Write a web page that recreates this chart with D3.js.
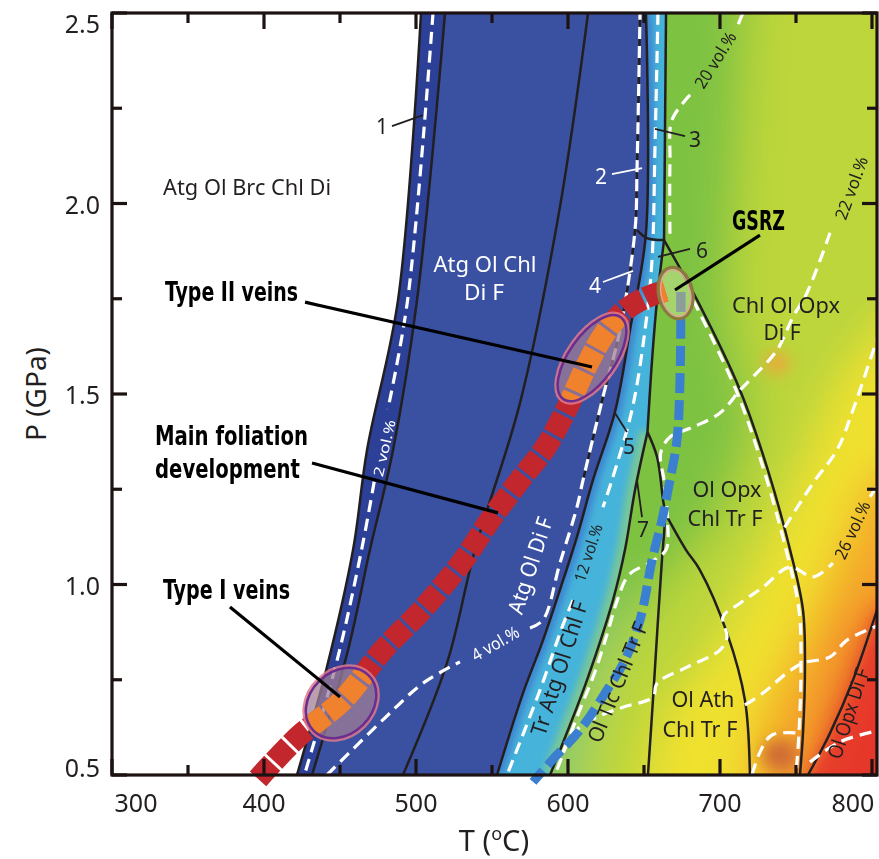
<!DOCTYPE html>
<html>
<head>
<meta charset="utf-8">
<script src="https://cdn.jsdelivr.net/npm/d3@7/dist/d3.min.js"></script>
<style>
  html, body { margin: 0; padding: 0; background: #fff; }
  svg { display: block; }
  text { font-family: "Noto Sans", "Open Sans", sans-serif; }
  .bold { font-family: "Liberation Sans Narrow", "DejaVu Sans Condensed", sans-serif; font-weight: bold; }
</style>
</head>
<body>
<svg id="chart" width="879" height="859"></svg>
<script>
// ---- axes ----
var xMajor = [300, 400, 500, 600, 700, 800];
var xMinor = [350, 450, 550, 650, 750];
var yMajor = [0.5, 1.0, 1.5, 2.0, 2.5];
var yMinor = [0.75, 1.25, 1.75, 2.25];
var xTickLabels = ["300", "400", "500", "600", "700", "800"];
var yTickLabels = ["0.5", "1.0", "1.5", "2.0", "2.5"];

// ---- reaction curves [T (°C), P (GPa)] ----
var curve1a = [[503.3, 2.5], [488.2, 1.747], [467.8, 1.353], [458.6, 1.091], [441.4, 0.783], [421.7, 0.5]];
var curve1b = [[519.1, 2.5], [500.7, 1.747], [484.9, 1.353], [469.7, 1.091], [455.3, 0.828], [431.6, 0.5]];
var curve2 = [[613.2, 2.5], [594.7, 1.991], [568.4, 1.476], [538.8, 1.091], [520.4, 0.794], [491.4, 0.5]];
var atgOut = [[651.3, 2.5], [651.3, 1.923], [640.8, 1.668], [630.9, 1.453], [616.4, 1.274], [605.9, 1.125],
              [594.7, 0.986], [583.6, 0.854], [570.4, 0.715], [553.3, 0.5]];
var topRight = [[664.5, 2.5], [663.2, 1.904]];
var line6 = [[663.2, 1.904], [658.6, 1.747], [655.3, 1.589], [652.3, 1.4]];
var line5 = [[652.3, 1.4], [644.1, 1.248], [637.5, 1.091], [629.6, 0.959], [612.5, 0.749], [600.0, 0.618], [588.2, 0.5]];
var tie6 = [[645.4, 1.930], [652.0, 1.909], [663.2, 1.904]];
var line7 = [[652.3, 1.4], [658.6, 1.335], [662.5, 1.222], [663.8, 1.188], [661.8, 1.064], [659.2, 0.907], [655.9, 0.697], [652.6, 0.5]];
var line7b = [[663.8, 1.188], [677.6, 1.091], [686.8, 1.038], [704.6, 0.873], [716.4, 0.697], [719.7, 0.5]];
var opxIn = [[663.2, 1.904], [684.9, 1.747], [713.2, 1.510], [730.9, 1.308], [746.1, 1.091], [754.6, 0.933],
             [755.9, 0.783], [754.6, 0.610], [752.6, 0.5]];
var diOut = [[757.9, 0.5], [772.4, 0.610], [787.5, 0.749], [803.3, 0.933]];

// ---- vol.% contours (segments broken where labels sit) ----
var vol2 = [[[511.2, 2.5], [494.5, 1.747], [481.5, 1.46]],
            [[472.5, 1.27], [464.2, 1.091], [448.4, 0.806], [426.6, 0.5]]];
var vol4 = [[[441.4, 0.5], [479.6, 0.650], [504.6, 0.741], [528.9, 0.797]],
            [[575.0, 0.886], [583.6, 0.907], [594.7, 1.056], [605.9, 1.203], [609.9, 1.274], [623.0, 1.492],
             [634.2, 1.668], [644.1, 1.930], [645.4, 2.088], [647.4, 2.5]]];
var vol12 = [[[659.2, 2.5], [657.2, 2.140], [655.3, 1.852], [650.7, 1.668], [642.1, 1.458], [628.9, 1.274], [623.0, 1.203]],
             [[603.3, 0.959], [596.7, 0.894], [581.6, 0.723], [559.9, 0.5]]];
var vol20 = [[[715.1, 2.5], [711.2, 2.463]],
             [[680.3, 2.285], [668.4, 2.219], [667.1, 2.114], [667.1, 1.904]]];
var vol22 = [[[772.4, 1.923], [757.2, 1.765], [748.0, 1.702], [737.5, 1.615], [721.7, 1.545], [713.2, 1.510],
              [700.0, 1.450], [682.2, 1.413], [667.1, 1.387], [661.0, 1.345], [663.5, 1.266], [665.5, 1.169],
              [664.5, 1.091], [655.0, 1.060], [640.0, 1.025], [632.5, 0.959], [626.0, 0.873], [617.5, 0.768],
              [607.0, 0.663], [597.0, 0.558], [591.5, 0.5]]];
var vol24 = [[[805.3, 1.668], [787.5, 1.458], [777.0, 1.353], [761.2, 1.266], [742.5, 1.15]]];
var vol26 = [[[596.7, 0.558], [603.3, 0.610], [619.1, 0.652], [636.2, 0.678], [655.9, 0.705], [658.6, 0.741],
              [678.3, 0.783], [700.0, 0.828], [704.6, 0.862], [702.0, 0.915], [713.2, 0.951], [728.3, 0.993],
              [746.1, 1.046], [761.2, 1.020], [774.3, 1.056]],
             [[798.7, 1.230], [805.3, 1.269]]];
var vol27 = [[[716.4, 0.684], [728.3, 0.715], [744.1, 0.768], [754.6, 0.794], [772.4, 0.810], [783.6, 0.854], [805.3, 0.894]]];
var vol28 = [[[721.1, 0.5], [726.3, 0.560], [734.2, 0.605], [752.6, 0.610]]];
var vol29 = [[[759.2, 0.534], [778.9, 0.587], [805.3, 0.618]]];

// ---- P-T paths ----
var redPath = [[396.1, 0.490], [422.4, 0.600], [452.0, 0.697], [478.3, 0.828], [503.9, 0.933], [530.3, 1.059],
               [548.7, 1.169], [568.4, 1.274], [584.9, 1.358], [598.7, 1.458], [612.5, 1.576], [624.3, 1.660],
               [637.5, 1.720], [650.7, 1.752], [665.8, 1.773]];
var bluePath = [[674.3, 1.768], [673.7, 1.537], [671.7, 1.379], [667.1, 1.274], [661.8, 1.169], [655.3, 1.064],
                [647.4, 0.907], [637.5, 0.802], [625.7, 0.723], [607.9, 0.618], [591.4, 0.547], [577.0, 0.482]];
var typeIAt = [450.7, 0.689];
var typeIIAt = [615.8, 1.594];
var gsrzAt = [670.8, 1.765];

// ---- background colour field (warmth zones) ----
var zoneYellowGreen = [[720, 2.67], [851, 2.67], [851, 0.3], [598, 0.3], [610, 0.70], [655, 0.96], [700, 1.17], [722, 1.41], [706, 1.75], [712, 2.14]];
var zoneYellow = [[851, 1.88], [851, 0.3], [641, 0.3], [660, 0.64], [700, 0.85], [740, 1.17], [779, 1.54]];
var zoneOrange = [[851, 1.41], [851, 0.3], [713, 0.3], [726, 0.64], [766, 0.96], [799, 1.27]];
var zoneRedOrange = [[851, 1.06], [851, 0.3], [746, 0.3], [766, 0.64], [792, 0.91]];
var zoneRed = [[851, 0.85], [851, 0.3], [759, 0.3], [782, 0.59], [805, 0.85]];
var zoneTeal = [[560, 0.3], [600, 0.3], [615, 0.62], [640, 1.0], [625, 1.0], [590, 0.62]];
var spotAt = [[737.5, 1.581], [739.5, 0.552]];

// ---- labels ----
var fieldText = ["Atg Ol Brc Chl Di", "Atg Ol Chl", "Di F", "Chl Ol Opx", "Di F", "Ol Opx", "Chl Tr F", "Ol Ath", "Chl Tr F"];
var fieldAt = [[333.6, 2.022], [545.4, 1.820], [544.7, 1.747], [743.4, 1.713], [740.8, 1.642], [704.6, 1.230], [703.3, 1.154], [688.8, 0.678], [686.8, 0.600]];
var rotText = ["Atg Ol Di F", "4 vol.%", "12 vol.%", "Tr Atg Ol Chl F", "Ol Tlc Chl Tr F", "Ol Opx Di F", "20 vol.%", "22 vol.%", "26 vol.%", "2 vol.%"];
var rotAt = [[574.3, 1.051], [552.0, 0.846], [613.2, 1.083], [593.4, 0.781], [632.2, 0.744], [784.2, 0.662], [696.7, 2.377], [786.2, 2.041], [786.8, 1.143], [478.9, 1.358]];
var numText = ["1", "2", "3", "4", "5", "6", "7"];
var numAt = [[477.6, 2.203], [621.7, 2.072], [683.6, 2.169], [617.8, 1.786], [640.1, 1.364], [688.2, 1.878], [649.3, 1.146]];
var numLead = [[[484.2, 2.203], [504.6, 2.232]], [[628.9, 2.077], [648.7, 2.093]], [[677.0, 2.177], [657.2, 2.196]],
               [[623.0, 1.794], [642.8, 1.823]], [[638.8, 1.400], [630.9, 1.450]], [[680.3, 1.881], [659.2, 1.860]],
               [[648.7, 1.177], [645.4, 1.274]]];
var calloutText = ["Type II veins", "Main foliation", "development", "Type I veins", "GSRZ"];
var calloutAt = [[334.9, 1.744], [328.3, 1.366], [328.3, 1.280], [333.6, 0.962], [707.9, 1.930]];
var calloutLead = [[[427.0, 1.741], [615.8, 1.571]], [[431.6, 1.319], [553.9, 1.188]],
                   [[377.6, 0.941], [450.0, 0.705]], [[726.3, 1.917], [670.4, 1.773]]];

// ---------------------------------------------------------------
var svg = d3.select("#chart");
var x = d3.scaleLinear().domain([300, 803.3]).range([112, 877]);
var y = d3.scaleLinear().domain([0.5, 2.5]).range([775, 13]);
var X0 = x.range()[0], X1 = x.range()[1], Y0 = y.range()[1], Y1 = y.range()[0];
var ink = "#231f20";

var curveLine = d3.line().x(function(d) { return x(d[0]); }).y(function(d) { return y(d[1]); })
    .curve(d3.curveCatmullRom.alpha(0.5));
var linLine = d3.line().x(function(d) { return x(d[0]); }).y(function(d) { return y(d[1]); });

// joins curve pieces into one closed outline
function outline(segs) {
    return segs.map(function(s, i) {
        var pts = s.rev ? s.pts.slice().reverse() : s.pts;
        var p = (s.lin ? linLine : curveLine)(pts);
        return i ? "L" + p.slice(1) : p;
    }).join("") + "Z";
}

var defs = svg.append("defs");
defs.append("clipPath").attr("id", "plotClip").append("rect")
    .attr("x", X0).attr("y", Y0).attr("width", X1 - X0).attr("height", Y1 - Y0);

var gradOutline = outline([
    {pts: topRight}, {pts: line6}, {pts: line5},
    {pts: [[588.2, 0.5], [588.2, 0.4], [820, 0.4], [820, 2.6], [664.5, 2.6], [664.5, 2.5]], lin: true}
]);
var blueOutline = outline([
    {pts: curve1a},
    {pts: [[421.7, 0.5], [421.7, 0.4], [553.3, 0.4], [553.3, 0.5]], lin: true},
    {pts: atgOut, rev: true},
    {pts: [[651.3, 2.5], [651.3, 2.6], [503.3, 2.6], [503.3, 2.5]], lin: true}
]);
var darkOutline = outline([
    {pts: curve1a},
    {pts: [[421.7, 0.5], [421.7, 0.4], [431.6, 0.4], [431.6, 0.5]], lin: true},
    {pts: curve1b, rev: true},
    {pts: [[519.1, 2.5], [519.1, 2.6], [503.3, 2.6], [503.3, 2.5]], lin: true}
]);
var cyanOutline = outline([
    {pts: atgOut},
    {pts: [[553.3, 0.5], [553.3, 0.4], [588.2, 0.4], [588.2, 0.5]], lin: true},
    {pts: line5, rev: true}, {pts: line6, rev: true}, {pts: topRight, rev: true},
    {pts: [[664.5, 2.5], [664.5, 2.6], [651.3, 2.6], [651.3, 2.5]], lin: true}
]);
var redOutline = outline([
    {pts: diOut},
    {pts: [[803.3, 0.933], [830, 0.933], [830, 0.4], [757.9, 0.4], [757.9, 0.5]], lin: true}
]);

defs.append("clipPath").attr("id", "gradClip").append("path").attr("d", gradOutline);
defs.append("clipPath").attr("id", "cyanClip").append("path").attr("d", cyanOutline);

function blurFilter(id, sd) {
    defs.append("filter").attr("id", id).attr("filterUnits", "userSpaceOnUse")
        .attr("x", -100).attr("y", -100).attr("width", 1100).attr("height", 1100)
        .append("feGaussianBlur").attr("stdDeviation", sd);
}
blurFilter("blurBig", 22);
blurFilter("blurMid", 8);
blurFilter("blurSmall", 3.5);

var plot = svg.append("g").attr("clip-path", "url(#plotClip)");

// colour field right of the Atg-out boundary
var field = plot.append("g").attr("clip-path", "url(#gradClip)").append("g").attr("filter", "url(#blurBig)");
field.append("rect").attr("x", X0 - 100).attr("y", Y0 - 100).attr("width", X1 - X0 + 200).attr("height", Y1 - Y0 + 200)
    .attr("fill", "#7ec242");
[[zoneYellowGreen, "#bcd63a"], [zoneYellow, "#f0e12e"], [zoneOrange, "#f4a62c"],
 [zoneRedOrange, "#ef6d2b"], [zoneRed, "#e4352a"], [zoneTeal, "#8ccb6e"]].forEach(function(z) {
    field.append("path").attr("d", linLine(z[0]) + "Z").attr("fill", z[1]);
});
var spots = plot.append("g").attr("clip-path", "url(#gradClip)").append("g").attr("filter", "url(#blurMid)");
spots.append("path").attr("d", redOutline).attr("fill", "#e5352b").attr("opacity", 0.85);
spots.append("ellipse").attr("cx", x(spotAt[0][0])).attr("cy", y(spotAt[0][1])).attr("rx", 12).attr("ry", 10).attr("fill", "#f3a23a");
spots.append("ellipse").attr("cx", x(spotAt[1][0])).attr("cy", y(spotAt[1][1])).attr("rx", 18).attr("ry", 16).attr("fill", "#cf6a34");

// Atg fields
plot.append("path").attr("d", blueOutline).attr("fill", "#3a51a2");
plot.append("path").attr("d", darkOutline).attr("fill", "#2c4097");

// Tr Atg Ol Chl F band
var band = plot.append("g").attr("clip-path", "url(#cyanClip)");
band.append("path").attr("d", cyanOutline).attr("fill", "#46b3da");
var bandShade = band.append("g").attr("filter", "url(#blurSmall)");
bandShade.append("path").attr("d", curveLine(atgOut)).attr("fill", "none").attr("stroke", "#3d82cf").attr("stroke-width", 12);
bandShade.append("path").attr("d", curveLine(line5)).attr("fill", "none").attr("stroke", "#79c894").attr("stroke-width", 16);

// reaction lines
var lines = plot.append("g").attr("fill", "none").attr("stroke", ink).attr("stroke-width", 2.5);
[curve1a, curve1b, curve2, atgOut, topRight, line6, line5, tie6, line7, line7b, opxIn, diOut, vol4[1].slice(4)]
    .forEach(function(c) { lines.append("path").attr("d", curveLine(c)); });

// contours
var dashes = plot.append("g").attr("fill", "none").attr("stroke", "#fff").attr("stroke-width", 3.2)
    .attr("stroke-dasharray", "12,7");
[vol2, vol4, vol12, vol20, vol22, vol24, vol26, vol27, vol28, vol29].forEach(function(c) {
    c.forEach(function(seg) { dashes.append("path").attr("d", curveLine(seg)); });
});
dashes.append("path").attr("d", curveLine(opxIn.slice(1))).attr("transform", "translate(-4,0)");

// P-T paths
function ellipse(g, at, rx, ry, rot) {
    return g.append("ellipse").attr("cx", 0).attr("cy", 0).attr("rx", rx).attr("ry", ry)
        .attr("transform", "translate(" + x(at[0]) + "," + y(at[1]) + ") rotate(" + rot + ")");
}
var over = svg.append("g");
over.append("path").attr("d", curveLine(redPath)).attr("fill", "none").attr("stroke", "#c1272d")
    .attr("stroke-width", 22).attr("stroke-dasharray", "21,3");
over.append("path").attr("d", curveLine(bluePath)).attr("fill", "none").attr("stroke", "#3b7fd0")
    .attr("stroke-width", 9).attr("stroke-dasharray", "20,7");

var rings = [[typeIAt, 39, 31, -45], [typeIIAt, 50, 23, -55]];
rings.forEach(function(r, i) {
    var id = "ring" + i;
    ellipse(defs.append("clipPath").attr("id", id), r[0], r[1], r[2], r[3]);
    ellipse(over, r[0], r[1], r[2], r[3]).attr("fill", "rgba(160,125,148,0.74)");
    over.append("path").attr("d", curveLine(redPath)).attr("clip-path", "url(#" + id + ")")
        .attr("fill", "none").attr("stroke", "#f0822d").attr("stroke-width", 22).attr("stroke-dasharray", "21,3");
    ellipse(over, r[0], r[1] + 2, r[2] + 2, r[3]).attr("fill", "none").attr("stroke", "#e07a8c")
        .attr("stroke-width", 3).attr("opacity", 0.85);
    ellipse(over, r[0], r[1], r[2], r[3]).attr("fill", "none").attr("stroke", "#6b2d8e").attr("stroke-width", 2.5);
});

ellipse(defs.append("clipPath").attr("id", "gsrzClip"), gsrzAt, 17, 26, -12);
ellipse(over, gsrzAt, 17, 26, -12).attr("fill", "rgba(255,255,215,0.3)");
over.append("path").attr("d", curveLine(redPath)).attr("clip-path", "url(#gsrzClip)")
    .attr("fill", "none").attr("stroke", "#f0822d").attr("stroke-width", 22).attr("stroke-dasharray", "21,3");
over.append("path").attr("d", curveLine(bluePath)).attr("clip-path", "url(#gsrzClip)")
    .attr("fill", "none").attr("stroke", "#8d9d98").attr("stroke-width", 9).attr("stroke-dasharray", "20,7");
ellipse(over, gsrzAt, 17, 26, -12).attr("fill", "none").attr("stroke", "#8b7a3e").attr("stroke-width", 3.2);
ellipse(over, gsrzAt, 14.5, 23.5, -12).attr("fill", "none").attr("stroke", "#e8a0a0").attr("stroke-width", 1.3);

// field labels
var fieldW = [168, 103, 40, 108, 37, 69, 75, 63, 75];
var fieldFill = ["#231f20", "#fff", "#fff"];
var labels = svg.append("g");
fieldText.forEach(function(t, i) {
    labels.append("text").attr("x", x(fieldAt[i][0])).attr("y", y(fieldAt[i][1]))
        .attr("text-anchor", i ? "middle" : "start").attr("font-size", 22)
        .attr("fill", fieldFill[i] || ink).attr("textLength", fieldW[i]).attr("lengthAdjust", "spacingAndGlyphs")
        .text(t);
});

var rotStyle = [[-72, 22, 100, "#fff"], [-30, 17, 52, "#fff"], [-72, 16, 60, ink], [-72, 22, 140, ink],
                [-68, 21, 128, ink], [-72, 20, 94, ink], [-58, 17, 63, ink], [-70, 17, 66, ink],
                [-65, 17, 62, ink], [-77, 14, 58, "#fff"]];
rotText.forEach(function(t, i) {
    var s = rotStyle[i];
    labels.append("text").attr("transform", "translate(" + x(rotAt[i][0]) + "," + y(rotAt[i][1]) + ") rotate(" + s[0] + ")")
        .attr("text-anchor", "middle").attr("dominant-baseline", "central").attr("font-size", s[1])
        .attr("fill", s[3]).attr("textLength", s[2]).attr("lengthAdjust", "spacingAndGlyphs").text(t);
});

var numFill = [ink, "#fff", ink, "#fff", ink, ink, ink];
numText.forEach(function(t, i) {
    labels.append("path").attr("d", linLine(numLead[i])).attr("stroke", numFill[i]).attr("stroke-width", 1.8);
    labels.append("text").attr("x", x(numAt[i][0])).attr("y", y(numAt[i][1]))
        .attr("text-anchor", "middle").attr("dominant-baseline", "central").attr("font-size", 21)
        .attr("fill", numFill[i]).text(t);
});

var calloutW = [133, 153, 145, 127, 53];
calloutLead.forEach(function(l) {
    labels.append("path").attr("d", linLine(l)).attr("stroke", "#000").attr("stroke-width", 3.2);
});
calloutText.forEach(function(t, i) {
    labels.append("text").attr("class", "bold").attr("x", x(calloutAt[i][0])).attr("y", y(calloutAt[i][1]))
        .attr("font-size", 26).attr("fill", "#000").attr("textLength", calloutW[i])
        .attr("lengthAdjust", "spacingAndGlyphs").text(t);
});

// frame and inward ticks
var axes = svg.append("g").attr("stroke", "#1d1212").attr("stroke-width", 3.2);
function xTicks(vals, len) {
    vals.forEach(function(v) {
        axes.append("line").attr("x1", x(v)).attr("x2", x(v)).attr("y1", Y1).attr("y2", Y1 - len);
        axes.append("line").attr("x1", x(v)).attr("x2", x(v)).attr("y1", Y0).attr("y2", Y0 + len);
    });
}
function yTicks(vals, len) {
    vals.forEach(function(v) {
        axes.append("line").attr("y1", y(v)).attr("y2", y(v)).attr("x1", X0).attr("x2", X0 + len);
        axes.append("line").attr("y1", y(v)).attr("y2", y(v)).attr("x1", X1).attr("x2", X1 - len);
    });
}
xTicks(xMajor, 16); xTicks(xMinor, 10);
yTicks(yMajor, 15); yTicks(yMinor, 10);
axes.append("rect").attr("x", X0).attr("y", Y0).attr("width", X1 - X0).attr("height", Y1 - Y0).attr("fill", "none");

var tickText = svg.append("g").attr("font-size", 25).attr("fill", ink);
var xNudge = [24, 0, 0, 0, 0, -19];
xTickLabels.forEach(function(t, i) {
    tickText.append("text").attr("x", x(xMajor[i]) + xNudge[i]).attr("y", 812).attr("text-anchor", "middle").text(t);
});
var yNudge = [-8, 0, 0, 0, 10];
yTickLabels.forEach(function(t, i) {
    tickText.append("text").attr("x", 100).attr("y", y(yMajor[i]) + yNudge[i]).attr("text-anchor", "end")
        .attr("dominant-baseline", "central").text(t);
});

svg.append("text").attr("transform", "translate(35," + y(1.5) + ") rotate(-90)").attr("text-anchor", "middle")
    .attr("dominant-baseline", "central").attr("font-size", 28).attr("fill", ink).text("P (GPa)");
var tl = svg.append("text").attr("x", (X0 + X1) / 2 - 0.5).attr("y", 851).attr("text-anchor", "middle")
    .attr("font-size", 29).attr("fill", ink);
tl.append("tspan").text("T (");
tl.append("tspan").attr("font-size", 18).attr("dy", -11).text("o");
tl.append("tspan").attr("dy", 11).text("C)");
</script>
</body>
</html>
